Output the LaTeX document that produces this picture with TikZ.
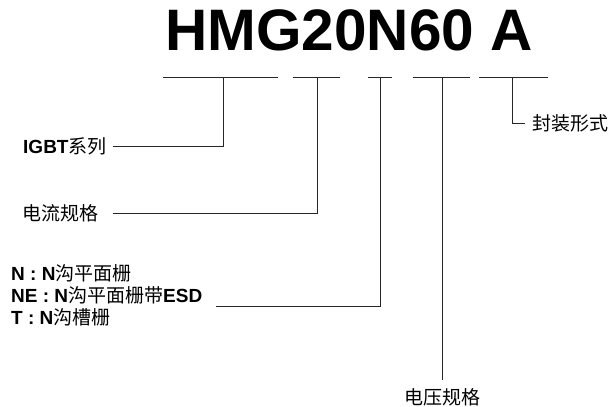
\documentclass[tikz,border=0pt]{standalone}
\usepackage{fontspec}
\setmainfont{Liberation Sans}
\newfontfamily\cjk{Noto Sans CJK SC}

\tikzset{
  mark line/.style={line width=0.9pt, black!85},
  label text/.style={font=\fontsize{19}{22}\selectfont, inner sep=0pt},
}

\begin{document}
\begin{tikzpicture}[x=1pt, y=-1pt]

% Canvas
\useasboundingbox (0,0) rectangle (611,407);

% Part number
\node[anchor=base, inner sep=0pt, font=\fontsize{58.5}{60}\selectfont\bfseries]
  (partno) at (349,50) {HMG20N60 A};

% Underlines, one per field
\foreach \a/\b in {163/278, 293/340, 368/392, 413/470, 479/548}
  \draw[mark line] (\a,77) -- (\b,77);

% Tick points on the underlines
\coordinate (t-series)  at (223,77);
\coordinate (t-current) at (317,77);
\coordinate (t-type)    at (380,77);
\coordinate (t-voltage) at (442,77);
\coordinate (t-package) at (512,77);

% Field descriptions
\node[label text, anchor=west] (series) at (23,146)
  {\textbf{IGBT}{\cjk 系列}};
\node[label text, anchor=west] (current) at (22,213)
  {{\cjk 电流规格}};
\node[label text, anchor=west] (type-n) at (11,273)
  {\textbf{N : N}{\cjk 沟平面栅}};
\node[label text, anchor=west] (type-ne) at (11,295)
  {\textbf{NE : N}{\cjk 沟平面栅带}\textbf{ESD}};
\node[label text, anchor=west] (type-t) at (11,317)
  {\textbf{T : N}{\cjk 沟槽栅}};
\node[label text] (voltage) at (442,397)
  {{\cjk 电压规格}};
\node[label text, anchor=west] (package) at (532,123)
  {{\cjk 封装形式}};

% Leader lines
\draw[mark line] (t-series) |- ([xshift=6pt]series.east);
\draw[mark line] (t-current) |- ([xshift=15pt]current.east);
\draw[mark line] (t-type) |- ([xshift=14pt, yshift=-4pt]type-ne.base east);
\draw[mark line] (t-voltage) -- ([yshift=8pt]voltage.north);
\draw[mark line] (t-package) |- ([xshift=-7pt]package.west);

\end{tikzpicture}
\end{document}
